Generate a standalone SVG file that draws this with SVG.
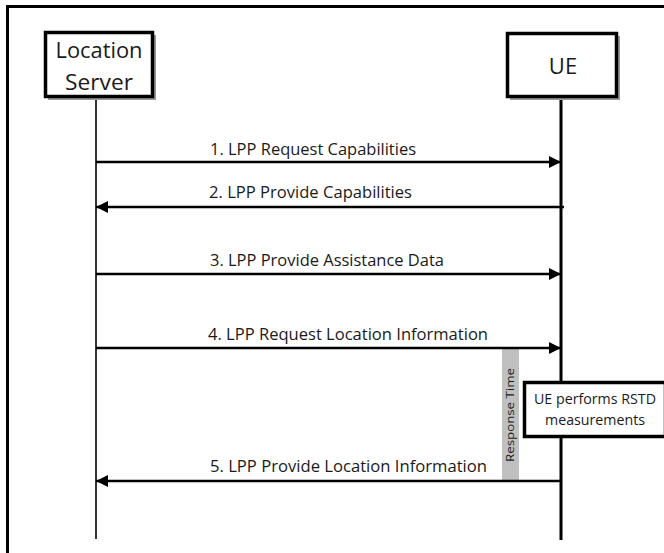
<svg xmlns="http://www.w3.org/2000/svg" width="664" height="553" viewBox="0 0 664 553">
  <style>
    .frame { fill: none; stroke: #000; stroke-width: 3; }
    .box { fill: #fff; stroke: #000; stroke-width: 3.5; }
    .shadow { fill: #9a9a9a; }
    .life { stroke: #000; fill: none; }
    .msg { stroke: #000; stroke-width: 2.5; fill: none; }
    text { font-family: "Open Sans", "Liberation Sans", sans-serif; fill: #1a1a1a; }
    .lbl { font-size: 16.5px; }
    .title { font-size: 22px; text-anchor: middle; }
    .note { font-size: 15px; text-anchor: middle; }
  </style>
  <defs>
    <marker id="arrow" viewBox="0 0 12 12" refX="12" refY="6" markerWidth="12" markerHeight="12" markerUnits="userSpaceOnUse" orient="auto">
      <path d="M0,0 L12,6 L0,12 Z" fill="#000"/>
    </marker>
  </defs>

  <rect width="664" height="553" fill="#fff"/>
  <!-- outer frame, open to the right and bottom -->
  <path class="frame" d="M7.5,560 V6.5 H670"/>

  <!-- lifelines -->
  <g id="lifelines">
    <line class="life" x1="96" y1="97" x2="96" y2="539" stroke-width="1.6"/>
    <line class="life" x1="561" y1="97" x2="561" y2="540" stroke-width="3"/>
  </g>

  <g id="location-server">
    <rect class="shadow" x="48" y="35" width="108" height="65"/>
    <rect class="box" x="45.5" y="32.5" width="107" height="64"/>
    <text class="title" x="99" y="58" textLength="87" lengthAdjust="spacingAndGlyphs">Location</text>
    <text class="title" x="99" y="90" textLength="68" lengthAdjust="spacingAndGlyphs">Server</text>
  </g>

  <g id="ue">
    <rect class="shadow" x="510" y="36" width="110" height="64"/>
    <rect class="box" x="507.5" y="33.5" width="109" height="63"/>
    <text class="title" x="563" y="74">UE</text>
  </g>

  <!-- response time bar -->
  <g id="response-time">
    <rect x="502" y="349" width="17" height="132" fill="#c0c0c0"/>
    <text transform="translate(514,415) rotate(-90)" text-anchor="middle" font-size="10.5" textLength="94" lengthAdjust="spacingAndGlyphs">Response Time</text>
  </g>

  <g id="connectors">
    <line class="msg" x1="96" y1="162" x2="561" y2="162" marker-end="url(#arrow)"/>
    <line class="msg" x1="564" y1="207" x2="96" y2="207" marker-end="url(#arrow)"/>
    <line class="msg" x1="96" y1="274" x2="561" y2="274" marker-end="url(#arrow)"/>
    <line class="msg" x1="96" y1="348" x2="561" y2="348" marker-end="url(#arrow)"/>
    <line class="msg" x1="562" y1="481" x2="96" y2="481" marker-end="url(#arrow)"/>
  </g>

  <g id="labels">
    <text class="lbl" x="210" y="155" textLength="206" lengthAdjust="spacingAndGlyphs">1. LPP Request Capabilities</text>
    <text class="lbl" x="209" y="198" textLength="203" lengthAdjust="spacingAndGlyphs">2. LPP Provide Capabilities</text>
    <text class="lbl" x="210" y="266" textLength="234" lengthAdjust="spacingAndGlyphs">3. LPP Provide Assistance Data</text>
    <text class="lbl" x="208" y="340" textLength="280" lengthAdjust="spacingAndGlyphs">4. LPP Request Location Information</text>
    <text class="lbl" x="210" y="472" textLength="277" lengthAdjust="spacingAndGlyphs">5. LPP Provide Location Information</text>
  </g>

  <!-- note box runs off the right edge of the page -->
  <g id="rstd-note">
    <rect class="box" x="524.5" y="382.5" width="141" height="54" stroke-width="3"/>
    <text class="note" x="595" y="404" textLength="122" lengthAdjust="spacingAndGlyphs">UE performs RSTD</text>
    <text class="note" x="595" y="425" textLength="100" lengthAdjust="spacingAndGlyphs">measurements</text>
  </g>
</svg>
